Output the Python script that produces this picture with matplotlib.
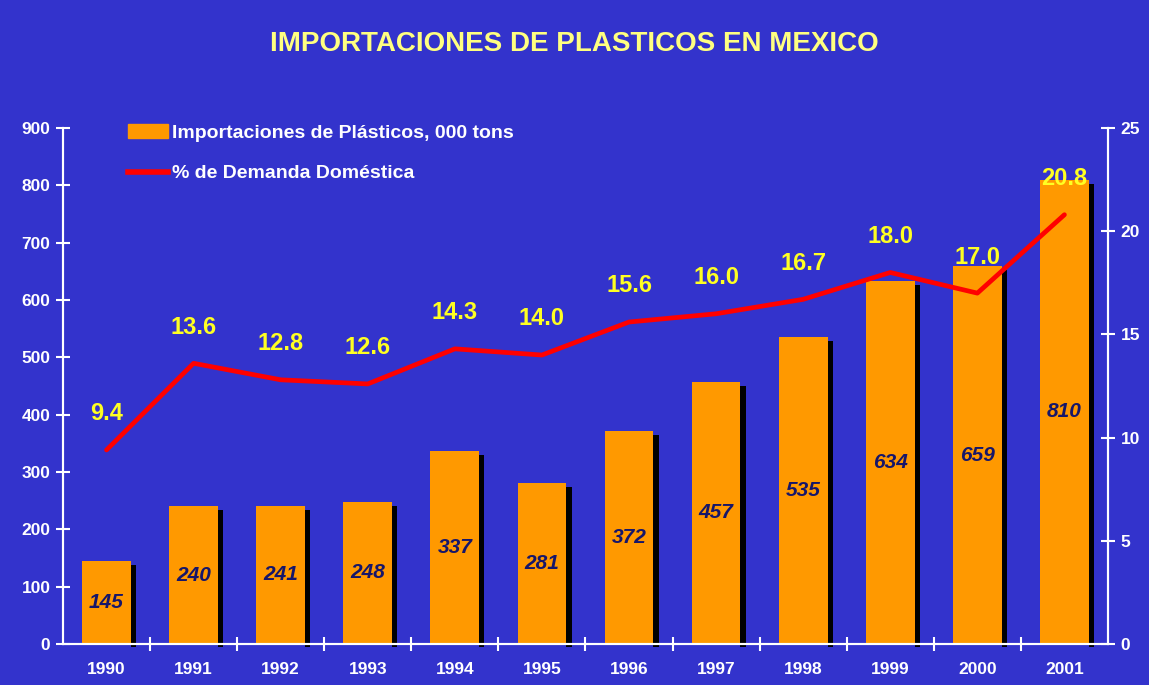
import numpy as np
import matplotlib.pyplot as plt
from matplotlib.patches import Patch
from matplotlib.lines import Line2D

years = ["1990", "1991", "1992", "1993", "1994", "1995",
         "1996", "1997", "1998", "1999", "2000", "2001"]
imports_kt = [145, 240, 241, 248, 337, 281, 372, 457, 535, 634, 659, 810]
pct_demand = [9.4, 13.6, 12.8, 12.6, 14.3, 14.0, 15.6, 16.0, 16.7, 18.0, 17.0, 20.8]

BG = "#3333CC"
ORANGE = "#FF9900"
YELLOW = "#FFFF22"
TITLE_YELLOW = "#FFFF80"
NAVY = "#16166A"
RED = "#FF0000"

plt.rcParams.update({
    "font.family": "Liberation Sans",
    "font.weight": "bold",
})

fig = plt.figure(figsize=(11.49, 6.85), dpi=100, facecolor=BG)
ax = fig.add_axes([0.0548, 0.0599, 0.9095, 0.7532], facecolor=BG)
ax2 = ax.twinx()

x = np.arange(len(years))
bar_w = 0.56
shadow_w = 0.06
shadow_drop = 7

# thin black shadow strip on the right side of each bar
ax.bar(x + bar_w / 2, np.array(imports_kt) - shadow_drop + 5, width=shadow_w,
       bottom=-5, align="edge", color="black", zorder=1, clip_on=False)
ax.bar(x, imports_kt, width=bar_w, color=ORANGE, zorder=2)

# import volumes written in the middle of each bar
for xi, v in zip(x, imports_kt):
    ax.text(xi, v / 2, f"{v}", ha="center", va="center", fontsize=15,
            style="italic", fontweight="bold", color=NAVY, zorder=3)

ax.set_xlim(-0.5, len(years) - 0.5)
ax.set_ylim(0, 900)
ax.set_yticks(range(0, 901, 100))
ax.set_xticks(x)
ax.set_xticklabels(years)
ax.set_xticks(np.arange(0.5, len(years) - 0.5, 1), minor=True)

ax2.plot(x, pct_demand, color=RED, linewidth=3.4, solid_capstyle="round",
         solid_joinstyle="round", zorder=4)
for xi, p in zip(x, pct_demand):
    ax2.annotate(f"{p:.1f}", (xi, p), xytext=(0, 26), textcoords="offset points",
                 ha="center", va="center", fontsize=17, color=YELLOW,
                 fontweight="bold", zorder=5)
ax2.set_ylim(0, 25)
ax2.set_yticks(range(0, 26, 5))

for a in (ax, ax2):
    a.spines["top"].set_visible(False)
    for s in ("left", "right", "bottom"):
        a.spines[s].set_color("white")
        a.spines[s].set_linewidth(1.5)
    a.tick_params(colors="white", labelsize=12.5, width=1.5, length=10,
                  direction="inout", pad=4)
ax.tick_params(axis="x", which="major", length=0, pad=13)
ax.tick_params(axis="x", which="minor", length=10, width=1.5, colors="white",
               direction="inout")
ax2.patch.set_visible(False)

handles = [Patch(facecolor=ORANGE, edgecolor=ORANGE),
           Line2D([0], [0], color=RED, linewidth=4)]
labels = ["Importaciones de Plásticos, 000 tons", "% de Demanda Doméstica"]
ax2.legend(handles, labels, loc="upper left", bbox_to_anchor=(0.0622, 1.008),
           frameon=False, fontsize=14, labelcolor="white", borderaxespad=0,
           borderpad=0, handlelength=2.05, handletextpad=0.2, labelspacing=1.2)

fig.text(0.5, 0.936, "IMPORTACIONES DE PLASTICOS EN MEXICO", ha="center",
         va="center", fontsize=20, fontweight="bold", color=TITLE_YELLOW)

fig.savefig("out.png", dpi=100, facecolor=BG)
